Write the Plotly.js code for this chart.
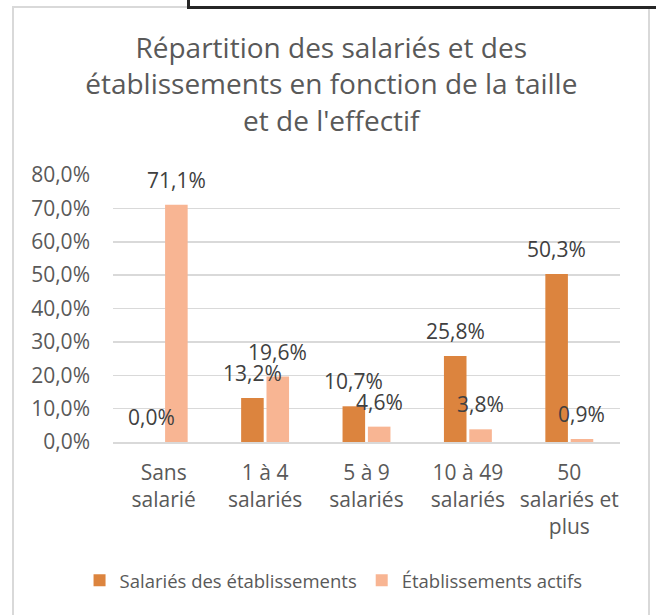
<!DOCTYPE html>
<html>
<head>
<meta charset="utf-8">
<script src="https://cdn.plot.ly/plotly-3.0.1.min.js"></script>
<style>
  html, body { margin: 0; padding: 0; background: #fff; }
  #wrap { position: relative; width: 656px; height: 615px; overflow: hidden; }
  #frame { position: absolute; left: 12px; top: 6px; width: 638px; height: 640px; border: 2px solid #d9d9d9; box-sizing: border-box; }
  #topbox { position: absolute; left: 187px; top: -20px; width: 500px; height: 29px; border: 3px solid #262626; box-sizing: border-box; }
  #chart { position: absolute; left: 0; top: 0; width: 656px; height: 615px; }
</style>
</head>
<body>
<div id="wrap">
  <div id="frame"></div>
  <div id="topbox"></div>
  <div id="chart"></div>
</div>
<script>
const categories = ["Sans<br>salarié", "1 à 4<br>salariés", "5 à 9<br>salariés", "10 à 49<br>salariés", "50<br>salariés et<br>plus"];
const seriesNames = ["Salariés des établissements", "Établissements actifs"];
const salaries = [0.0, 13.2, 10.7, 25.8, 50.3];
const etablissements = [71.1, 19.6, 4.6, 3.8, 0.9];
const tickValues = [0, 10, 20, 30, 40, 50, 60, 70, 80];
const tickLabels = ["0,0%", "10,0%", "20,0%", "30,0%", "40,0%", "50,0%", "60,0%", "70,0%", "80,0%"];

const colors = ["#DC843E", "#F8B593"];
const FONT = "Open Sans, Noto Sans, sans-serif";
const bargap = 0.5;
const seriesList = [salaries, etablissements];

const fmt = v => v.toFixed(1).replace(".", ",") + "%";

const traces = seriesList.map((vals, i) => ({
  type: "bar",
  name: seriesNames[i],
  x: categories,
  y: vals,
  marker: { color: colors[i], line: { width: 0 } },
  hoverinfo: "skip"
}));

// data labels, placed over each bar through the axis scale
const slot = (1 - bargap) / seriesList.length;
const annotations = [];
seriesList.forEach((vals, s) => {
  const off = -(1 - bargap) / 2 + slot * (s + 0.5);
  vals.forEach((v, c) => {
    annotations.push({
      x: c + off, y: v, xref: "x", yref: "y",
      text: fmt(v), showarrow: false, yshift: 25,
      xanchor: "center", yanchor: "middle",
      font: { family: FONT, size: 21, color: "#404040" }
    });
  });
});

const layout = {
  width: 656, height: 615,
  paper_bgcolor: "rgba(0,0,0,0)", plot_bgcolor: "rgba(0,0,0,0)",
  margin: { l: 113, r: 36, t: 175, b: 173 },
  title: {
    text: "Répartition des salariés et des<br>établissements en fonction de la taille<br>et de l'effectif",
    font: { family: FONT, size: 28, color: "#595959" },
    x: 0.505, xref: "container", xanchor: "center",
    y: 0.906, yref: "container", yanchor: "middle"
  },
  barmode: "group", bargap: bargap, bargroupgap: 0.11,
  showlegend: true,
  legend: {
    orientation: "h", x: 0.435, xanchor: "center", y: -0.52, yanchor: "middle",
    font: { family: FONT, size: 18.5, color: "#595959" },
    itemwidth: 30, traceorder: "normal"
  },
  xaxis: {
    type: "category",
    tickfont: { family: FONT, size: 21, color: "#595959" },
    showline: true, linecolor: "#d9d9d9", linewidth: 1.5,
    ticks: "", showgrid: false, automargin: false, ticklabelstandoff: 11
  },
  yaxis: {
    range: [0, 80], tickvals: tickValues, ticktext: tickLabels,
    tickfont: { family: FONT, size: 21, color: "#595959" },
    showgrid: true, gridcolor: "#d9d9d9", gridwidth: 1.5,
    zeroline: false, showline: false, ticks: "", automargin: false,
    ticklabelstandoff: 22
  },
  annotations: annotations
};

Plotly.newPlot("chart", traces, layout, { staticPlot: true, displayModeBar: false });
</script>
</body>
</html>
